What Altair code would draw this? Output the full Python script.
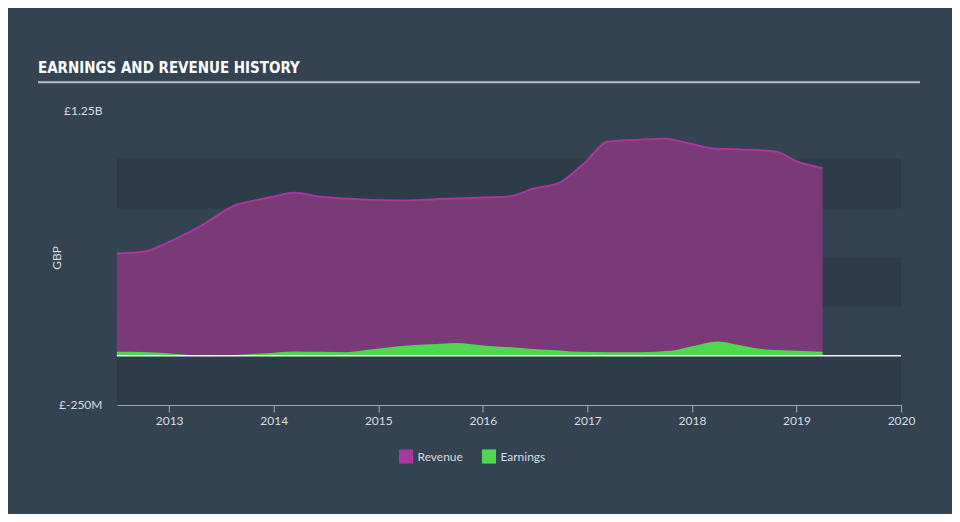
import altair as alt
import pandas as pd

# Revenue (GBP billions)
rev_t = [2012.5, 2012.77, 2013.0, 2013.3, 2013.65, 2013.82, 2014.0, 2014.2, 2014.43,
         2014.67, 2015.2, 2015.7, 2016.25, 2016.48, 2016.73, 2016.97, 2017.2, 2017.5,
         2017.74, 2017.98, 2018.2, 2018.46, 2018.8, 2019.0, 2019.25]
rev_v = [0.52, 0.53, 0.58, 0.66, 0.77, 0.79, 0.81, 0.83, 0.81,
         0.80, 0.79, 0.80, 0.81, 0.85, 0.88, 0.98, 1.09, 1.10,
         1.105, 1.08, 1.055, 1.05, 1.04, 0.99, 0.955]

# Earnings (GBP billions)
earn_t = [2012.5, 2012.8, 2013.1, 2013.35, 2013.6, 2013.9, 2014.2, 2014.45, 2014.7,
          2014.9, 2015.2, 2015.5, 2015.75, 2016.0, 2016.3, 2016.6, 2016.85, 2017.2,
          2017.5, 2017.8, 2018.0, 2018.25, 2018.45, 2018.7, 2019.0, 2019.25]
earn_v = [0.02, 0.018, 0.008, -0.002, 0.003, 0.012, 0.022, 0.02, 0.018,
          0.03, 0.048, 0.058, 0.065, 0.052, 0.042, 0.03, 0.022, 0.018,
          0.018, 0.025, 0.048, 0.073, 0.055, 0.032, 0.025, 0.02]

band_lo = [0.75, 0.25, -0.25]
band_hi = [1.0, 0.5, 0.0]

BG = "#344351"
BAND = "#2e3b48"

rev = pd.DataFrame({"t": rev_t, "v": rev_v, "s": "Revenue"})
earn = pd.DataFrame({"t": earn_t, "v": earn_v, "s": "Earnings"})
bands = pd.DataFrame({"lo": band_lo, "hi": band_hi})

xs = alt.Scale(domain=[2012.5, 2020], nice=False, zero=False)
ys = alt.Scale(domain=[-0.25, 1.25], nice=False, zero=False)

yaxis = alt.Axis(values=[1.25, -0.25],
                 labelExpr="datum.value > 1 ? '£1.25B' : '£-250M'",
                 domain=False, ticks=False, grid=False,
                 labelColor="#d8dde3", labelFontSize=12, labelFont="Lato",
                 labelPadding=15, title=None)

xaxis = alt.Axis(values=[2013, 2014, 2015, 2016, 2017, 2018, 2019, 2020],
                 format="d", domainColor="#a7b6c6", tickColor="#a7b6c6",
                 tickSize=7, labelColor="#d8dde3", labelFontSize=12,
                 labelFont="Lato", labelPadding=4, grid=False, title=None,
                 labelFlush=False)

color = alt.Color("s:N", scale=alt.Scale(domain=["Revenue", "Earnings"],
                                          range=["#a8389c", "#4fd84f"]),
                  legend=alt.Legend(title=None, orient="none", legendX=282, legendY=339,
                                    direction="horizontal", symbolType="square",
                                    symbolSize=200, symbolStrokeWidth=0, symbolOpacity=1,
                                    labelColor="#d8dde3", labelFontSize=12,
                                    labelFont="Lato", columnPadding=18))

band_layer = alt.Chart(bands).mark_rect(color=BAND).encode(
    y=alt.Y("lo:Q", scale=ys, axis=yaxis), y2="hi:Q",
    x=alt.value(0), x2=alt.value(785))

rev_area = alt.Chart(rev).mark_area(interpolate="monotone", color="#7a3a77", opacity=1).encode(
    x=alt.X("t:Q", scale=xs, axis=xaxis),
    y=alt.Y("v:Q", scale=ys, axis=yaxis),
    y2=alt.datum(0))

rev_line = alt.Chart(rev).mark_line(interpolate="monotone", strokeWidth=2).encode(
    x=alt.X("t:Q", scale=xs), y=alt.Y("v:Q", scale=ys), color=color)

earn_area = alt.Chart(earn).mark_area(interpolate="monotone", opacity=1).encode(
    x=alt.X("t:Q", scale=xs), y=alt.Y("v:Q", scale=ys), y2=alt.datum(0), color=color)

zero_rule = alt.Chart(pd.DataFrame({"z": [0]})).mark_rule(color="#f2f4f6", strokeWidth=1.5).encode(
    y=alt.Y("z:Q", scale=ys), x=alt.value(0), x2=alt.value(785))

one = pd.DataFrame({"a": [1]})

title_text = alt.Chart(one).mark_text(
    text="EARNINGS AND REVENUE HISTORY", align="left", baseline="middle",
    font="DejaVu Sans Condensed", fontWeight="bold", fontSize=15, color="#ffffff").encode(
    x=alt.value(-79), y=alt.value(-42))

title_rule = alt.Chart(one).mark_rule(color="#b8c0c8", strokeWidth=2).encode(
    x=alt.value(-79), x2=alt.value(804), y=alt.value(-28))

gbp_text = alt.Chart(one).mark_text(
    text="GBP", align="center", baseline="middle", angle=270,
    font="Lato", fontSize=12, color="#d8dde3").encode(
    x=alt.value(-60), y=alt.value(148))

chart = alt.layer(band_layer, rev_area, rev_line, earn_area, zero_rule,
                  title_text, title_rule, gbp_text).properties(
    width=785, height=295,
    padding={"left": 109, "top": 102, "right": 51, "bottom": 109},
    autosize=alt.AutoSizeParams(type="none"),
    background=BG,
).configure_view(stroke=None).configure_legend(labelFont="Lato")

chart.save("out.html", embed_options={"renderer": "svg", "actions": False})
